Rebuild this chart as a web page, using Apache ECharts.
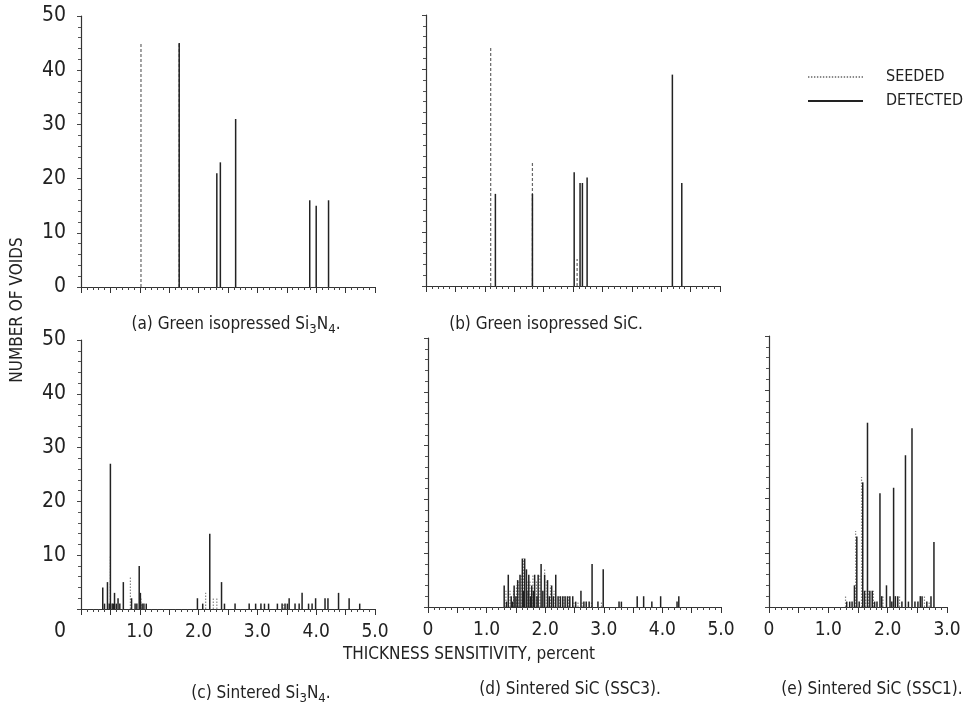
<!DOCTYPE html>
<html>
<head>
<meta charset="utf-8">
<script src="https://cdn.jsdelivr.net/npm/echarts@6/dist/echarts.min.js"></script>
<style>html,body{margin:0;padding:0;background:#fff;}#c{width:971px;height:714px;}</style>
</head>
<body>
<div id="c"></div>
<script>
// ---- data: [thickness sensitivity (percent), number of voids] ----
const aSeeded = [[1.02,45],[1.67,45]];
const aDetected = [[1.67,45],[2.31,21],[2.37,23],[2.63,31],[3.89,16],[4.00,15],[4.21,16]];

const bSeeded = [[1.10,44],[1.81,23],[2.57,5]];
const bDetected = [[1.18,17],[1.81,17],[2.52,21],[2.62,19],[2.66,19],[2.74,20],[4.19,39],[4.35,19]];

const cSeeded = [[0.50,10],[0.84,6],[1.02,2],[2.12,3],[2.25,2],[2.31,2],[3.45,1]];
const cDetected = [[0.37,4],[0.40,1],[0.45,5],[0.48,1],[0.50,27],[0.53,1],[0.55,1],[0.57,3],[0.60,1],[0.63,2],[0.66,1],[0.72,5],[0.86,2],[0.92,1],[0.95,1],[0.99,8],[1.01,3],[1.04,1],[1.07,1],[1.11,1],[1.98,2],[2.07,1],[2.19,14],[2.39,5],[2.44,1],[2.62,1],[2.86,1],[2.97,1],[3.06,1],[3.12,1],[3.19,1],[3.34,1],[3.42,1],[3.47,1],[3.51,1],[3.54,2],[3.64,1],[3.71,1],[3.76,3],[3.87,1],[3.93,1],[3.99,2],[4.15,2],[4.20,2],[4.38,3],[4.56,2],[4.74,1]];

const dSeeded = [[1.33,3],[1.40,3],[1.46,3],[1.51,4],[1.55,5],[1.59,6],[1.63,9],[1.69,5],[1.74,5],[1.79,6],[1.85,5],[1.91,6],[1.99,7],[2.03,5],[2.09,4],[2.15,3],[2.24,2],[2.32,2],[2.40,2],[2.49,1],[2.56,1],[2.63,1],[2.79,1],[2.96,1]];
const dDetected = [[1.30,4],[1.34,1],[1.37,6],[1.42,2],[1.44,1],[1.47,4],[1.50,2],[1.53,5],[1.57,6],[1.61,9],[1.63,3],[1.65,9],[1.68,7],[1.71,3],[1.72,6],[1.75,2],[1.77,4],[1.80,3],[1.82,6],[1.86,2],[1.88,6],[1.93,8],[1.96,3],[1.99,6],[2.04,5],[2.07,2],[2.11,4],[2.14,2],[2.18,6],[2.22,2],[2.26,2],[2.30,2],[2.34,2],[2.38,2],[2.42,2],[2.47,2],[2.52,1],[2.61,3],[2.66,1],[2.70,1],[2.75,1],[2.80,8],[2.90,1],[2.99,7],[3.26,1],[3.30,1],[3.57,2],[3.68,2],[3.82,1],[3.97,2],[4.25,1],[4.28,2]];

const eSeeded = [[1.29,2],[1.46,14],[1.56,24],[1.63,3],[1.68,3],[1.76,3],[1.92,2],[2.20,2],[2.62,2],[2.70,1]];
const eDetected = [[1.31,1],[1.36,1],[1.40,1],[1.44,4],[1.48,13],[1.52,1],[1.58,23],[1.61,3],[1.66,34],[1.70,3],[1.74,3],[1.78,1],[1.82,1],[1.87,21],[1.90,2],[1.98,4],[2.04,2],[2.07,1],[2.10,22],[2.13,2],[2.17,2],[2.24,1],[2.30,28],[2.35,1],[2.41,33],[2.46,1],[2.51,1],[2.55,2],[2.58,2],[2.66,1],[2.73,2],[2.78,12]];

const xMax = [5, 5, 5, 5, 3];
const yTicks = [0, 10, 20, 30, 40, 50];

const panelTitles = [
  '(a) Green isopressed Si{sub|3}N{sub|4}.',
  '(b) Green isopressed SiC.',
  '(c) Sintered Si{sub|3}N{sub|4}.',
  '(d) Sintered SiC (SSC3).',
  '(e) Sintered SiC (SSC1).'
];
const xAxisTitle = 'THICKNESS SENSITIVITY, percent';
const yAxisTitle = 'NUMBER OF VOIDS';

// ---- layout / style ----
const FONT = "'Liberation Sans Narrow','DejaVu Sans Condensed','Liberation Sans',sans-serif";
const INK = '#222';
const grids = [
  {left: 81, top: 16, width: 294, height: 271},
  {left: 426, top: 15, width: 294, height: 271},
  {left: 81, top: 340, width: 294, height: 269},
  {left: 428, top: 338, width: 293, height: 269},
  {left: 769, top: 336, width: 178, height: 271}
];
const showX = [false, false, true, true, true];
const showY = [true, false, true, false, false];

const chart = echarts.init(document.getElementById('c'), null, {renderer: 'canvas'});

function spikes(color, width, dash) {
  return function (params, api) {
    const x = api.value(0), y = api.value(1);
    const p0 = api.coord([x, 0]);
    const p1 = api.coord([x, y]);
    return {
      type: 'line',
      shape: {x1: p0[0], y1: p0[1], x2: p1[0], y2: p1[1]},
      style: {stroke: color, lineWidth: width, lineDash: dash || null}
    };
  };
}

const xAxes = grids.map((g, i) => ({
  type: 'value', gridIndex: i, min: 0, max: xMax[i], interval: 0.5,
  axisLine: {show: true, onZero: false, lineStyle: {color: '#333', width: 1.2}},
  axisTick: {show: true, length: 6, lineStyle: {color: '#333', width: 1}},
  minorTick: {show: true, splitNumber: 5, length: 3, lineStyle: {color: '#444', width: 1}},
  splitLine: {show: false},
  axisLabel: {
    show: showX[i], margin: 14, color: INK, fontFamily: FONT, fontSize: 19,
    formatter: function (v) {
      if (Math.abs(v - Math.round(v)) > 1e-6) return '';
      if (v === 0) return i === 2 ? '' : '0';
      return v.toFixed(1);
    }
  }
}));

const yAxes = grids.map((g, i) => ({
  type: 'value', gridIndex: i, min: 0, max: 50, interval: 10,
  axisLine: {show: true, lineStyle: {color: '#333', width: 1.2}},
  axisTick: {show: true, length: 4, lineStyle: {color: '#444', width: 1}},
  minorTick: {show: true, splitNumber: 5, length: 3, lineStyle: {color: '#555', width: 1}},
  splitLine: {show: false},
  axisLabel: {
    show: showY[i], margin: 15, color: INK, fontFamily: FONT, fontSize: 21, align: 'right',
    formatter: function (v) {
      if (yTicks.indexOf(v) < 0) return '';
      if (v === 0 && i === 2) return '{z|0}';
      return String(v);
    },
    rich: {z: {fontFamily: FONT, fontSize: 21, color: INK, padding: [46, 0, 0, 0]}}
  }
}));

const seededSets = [aSeeded, bSeeded, cSeeded, dSeeded, eSeeded];
const detectedSets = [aDetected, bDetected, cDetected, dDetected, eDetected];
const series = [];
seededSets.forEach((d, i) => {
  const dash = (i < 2) ? [3, 2] : [1.5, 1.5];
  const col = (i < 2) ? '#666' : '#8a8a8a';
  series.push({
    name: 'SEEDED', type: 'custom', xAxisIndex: i, yAxisIndex: i,
    itemStyle: {color: '#8a8a8a'},
    renderItem: spikes(col, 1.2, dash),
    encode: {x: 0, y: 1}, data: d, z: 2
  });
});
detectedSets.forEach((d, i) => {
  series.push({
    name: 'DETECTED', type: 'custom', xAxisIndex: i, yAxisIndex: i,
    itemStyle: {color: INK},
    renderItem: spikes(INK, 1.5),
    encode: {x: 0, y: 1}, data: d, z: 3
  });
});

let dotPath = 'path://';
for (let k = 0; k < 55; k += 3) dotPath += 'M' + k + ' 0h1.4v1h-1.4z';
dotPath += 'M55 0h0.01v1h-0.01z';

const subRich = {
  t: {fontFamily: FONT, fontSize: 17, color: INK},
  sub: {fontFamily: FONT, fontSize: 13, color: INK, padding: [10, 0, 0, 0]}
};
function titleText(str) {
  return str.split(/(\{sub\|[^}]*\})/).map(s => s.startsWith('{sub|') ? s : (s ? '{t|' + s + '}' : '')).join('');
}
const titlePos = [[236, 325], [546, 325], [261, 694], [570, 690], [872, 690]];
const graphics = panelTitles.map((t, i) => ({
  type: 'text', x: titlePos[i][0], y: titlePos[i][1],
  style: {text: titleText(t), rich: subRich, align: 'center', verticalAlign: 'middle', fill: INK}
}));
graphics.push({
  type: 'text', x: 469, y: 655,
  style: {text: xAxisTitle, font: '17px ' + FONT, fill: INK, align: 'center', verticalAlign: 'middle'}
});
graphics.push({
  type: 'text', x: 18, y: 310, rotation: Math.PI / 2,
  style: {text: yAxisTitle, font: '17px ' + FONT, fill: INK, align: 'center', verticalAlign: 'middle'}
});

chart.setOption({
  animation: false,
  backgroundColor: '#fff',
  grid: grids,
  xAxis: xAxes,
  yAxis: yAxes,
  legend: {
    orient: 'vertical', left: 803, top: 64, itemWidth: 55, itemHeight: 2, itemGap: 8,
    symbolKeepAspect: false, selectedMode: false,
    textStyle: {fontFamily: FONT, fontSize: 16, color: INK, padding: [0, 0, 0, 18]},
    data: [
      {name: 'SEEDED', icon: dotPath, itemStyle: {color: '#8a8a8a'}},
      {name: 'DETECTED', icon: 'rect', itemStyle: {color: INK}}
    ]
  },
  graphic: graphics,
  series: series
});
</script>
</body>
</html>
